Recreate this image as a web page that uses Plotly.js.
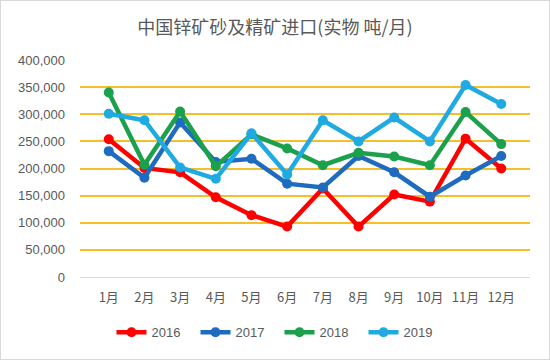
<!DOCTYPE html>
<html>
<head>
<meta charset="utf-8">
<script src="https://cdn.plot.ly/plotly-3.0.1.min.js"></script>
<style>
html,body{margin:0;padding:0;background:#fff;}
#wrap{position:absolute;left:0;top:0;width:548px;height:358px;border:1px solid #d9d9d9;}
#chart{width:548px;height:358px;}
</style>
</head>
<body>
<div id="wrap"><div id="chart"></div></div>
<script>
const months = ["1月","2月","3月","4月","5月","6月","7月","8月","9月","10月","11月","12月"];
const y2016 = [254000,201000,193000,147000,114000,93000,163000,93000,152000,139000,255000,200000];
const y2017 = [232000,183000,285000,212000,218000,172000,165000,223000,193000,148000,187000,223000];
const y2018 = [340000,207000,305000,204000,263000,237000,206000,229000,222000,206000,304000,245000];
const y2019 = [301000,289000,202000,181000,265000,189000,289000,250000,294000,250000,354000,319000];
const seriesNames = ["2016","2017","2018","2019"];
const seriesColors = ["#FF0000","#1F6BBF","#1BA04C","#1FAAE2"];
const seriesData = [y2016,y2017,y2018,y2019];

const traces = seriesData.map((d,i)=>({
  x: months, y: d, name: seriesNames[i], type: "scatter", mode: "lines+markers",
  line: {color: seriesColors[i], width: 4.5},
  marker: {color: seriesColors[i], size: 10}
}));

const layout = {
  width: 548, height: 358,
  margin: {l: 79, r: 19, t: 59, b: 79},
  paper_bgcolor: "#fff", plot_bgcolor: "#fff",
  title: {text: "中国锌矿砂及精矿进口(实物 吨/月)", x: 0.5, xanchor: "center", y: 0.925, yanchor: "middle",
    font: {family: "Noto Sans CJK SC, sans-serif", size: 18, color: "#595959"}},
  xaxis: {type: "category", showgrid: false, zeroline: false, showline: true, linecolor: "#d9d9d9", linewidth: 1,
    ticks: "", ticklabelstandoff: 8, tickfont: {family: "Noto Sans CJK SC, sans-serif", size: 13, color: "#595959"}, fixedrange: true},
  yaxis: {range: [0, 400000], dtick: 50000, tickformat: ",d", showgrid: true, gridcolor: "#F5BF2A", gridwidth: 2,
    zeroline: false, showline: false, ticks: "", ticklabelstandoff: 14,
    tickfont: {family: "Liberation Sans, Arial, sans-serif", size: 13, color: "#595959"}, fixedrange: true},
  showlegend: true,
  legend: {orientation: "h", x: 0.07, xanchor: "left", y: -0.255, yanchor: "middle",
    font: {family: "Liberation Sans, Arial, sans-serif", size: 13, color: "#595959"}, itemwidth: 30,
    entrywidth: 39, entrywidthmode: "pixels", tracegroupgap: 0}
};
Plotly.newPlot("chart", traces, layout, {displayModeBar: false, staticPlot: true});
</script>
</body>
</html>
